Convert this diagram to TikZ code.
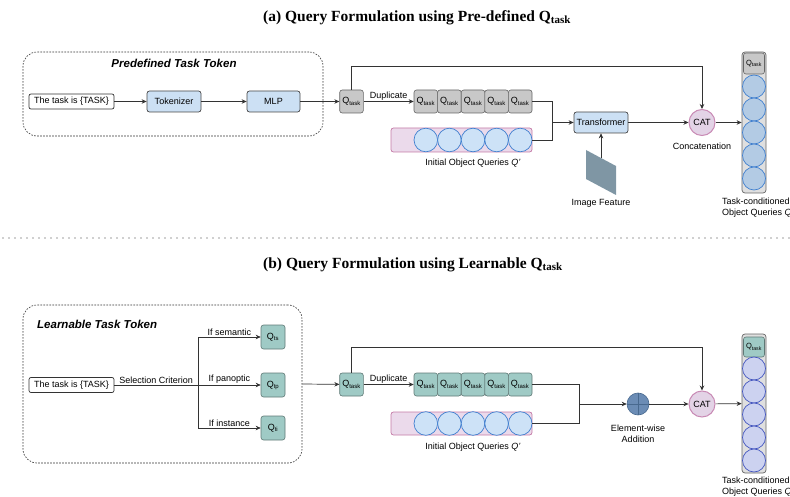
\documentclass[tikz,border=0pt]{standalone}
\usepackage{fontspec}
\setmainfont{Liberation Serif}
\setsansfont{Liberation Sans}
\usetikzlibrary{arrows.meta,positioning}

\definecolor{linegray}{HTML}{333333}
\definecolor{blockblue}{HTML}{CCE0F4}
\definecolor{tokgray}{HTML}{C8C8C8}
\definecolor{tokteal}{HTML}{9FCAC5}
\definecolor{barpink}{HTML}{EBDAEB}
\definecolor{barpinkline}{HTML}{C47AA6}
\definecolor{querybg}{HTML}{CDE2F7}
\definecolor{queryline}{HTML}{3F7FCF}
\definecolor{catfill}{HTML}{E3D3E6}
\definecolor{catline}{HTML}{C98BB5}
\definecolor{outblue}{HTML}{B3CBE4}
\definecolor{outlav}{HTML}{CCD2F0}
\definecolor{outlavline}{HTML}{4456C0}
\definecolor{featgray}{HTML}{7F96A4}
\definecolor{addblue}{HTML}{6B8CB5}
\definecolor{addline}{HTML}{48698F}

\newcommand{\qtask}{Q\textsubscript{task}}
\newcommand{\qsel}[1]{Q\textsubscript{#1}}
\newcommand{\titleq}{Q\raisebox{-0.3ex}{\fontsize{11}{11}\selectfont task}}

\begin{document}
\begin{tikzpicture}[
        x=1pt, y=-1pt,
        >={Stealth[length=5pt,width=4.5pt]},
        font=\sffamily\fontsize{9}{10.5}\selectfont,
        conn/.style={draw=linegray, line width=0.7pt},
        title/.style={font=\rmfamily\bfseries\fontsize{15.5}{17}\selectfont, anchor=west, inner sep=0pt},
        groupname/.style={font=\sffamily\bfseries\itshape\fontsize{11.5}{13}\selectfont, inner sep=0pt},
        group/.style={draw=linegray, dash pattern=on 1.6pt off 1.4pt, rounded corners=14pt, line width=0.6pt},
        prompt/.style={draw=linegray, fill=white, rounded corners=2pt, minimum width=85pt, minimum height=15pt, inner sep=0pt, line width=0.7pt},
        block/.style={draw=linegray!90, fill=blockblue, rounded corners=2.5pt, minimum height=21pt, inner sep=0pt, line width=0.7pt},
        tok/.style={rounded corners=2.5pt, minimum width=23.6pt, minimum height=23pt, inner sep=0pt, line width=0.6pt},
        graytok/.style={tok, draw=gray!80!black, fill=tokgray},
        tealtok/.style={tok, draw=tokteal!60!black, fill=tokteal},
        querybar/.style={draw=barpinkline, fill=barpink, rounded corners=2.5pt, minimum width=141pt, minimum height=24pt, inner sep=0pt, line width=0.7pt},
        query/.style={circle, draw=queryline, fill=querybg, minimum size=23.6pt, inner sep=0pt, line width=0.7pt},
        cat/.style={circle, draw=catline, fill=catfill, minimum size=26pt, inner sep=0pt, line width=1pt},
        column/.style={draw=gray!80!black, fill=gray!25, rounded corners=3pt, minimum width=24pt, inner sep=0pt, line width=0.7pt},
        small/.style={font=\sffamily\fontsize{7.5}{9}\selectfont},
        note/.style={inner sep=1pt}
    ]
    \useasboundingbox (0,0) rectangle (790,497);

    % (a) pre-defined task token
    \node[title] (titleA) at (263,18) {(a) Query Formulation using Pre-defined \titleq};
    \node[group, minimum width=300pt, minimum height=84pt] (predef) at (173,94) {};
    \node[groupname] (predefname) at (174,63) {Predefined Task Token};

    \node[prompt] (promptA) at (71.5,101.5) {The task is \{TASK\}};
    \node[block, minimum width=54pt] (tok) at (174,101.5) {Tokenizer};
    \node[block, minimum width=53pt] (mlp) at (273.5,101.5) {MLP};
    \node[graytok] (qA) at (351.5,101.5) {\qtask};
    \draw[conn, ->] (promptA) -- (tok);
    \draw[conn, ->] (tok) -- (mlp);
    \draw[conn, ->] (mlp) -- (qA);

    % duplicated tokens and initial queries
    \foreach \i in {0,...,4}
        \node[graytok] (dA\i) at (425.8+23.6*\i,101.5) {\qtask};
    \node[querybar] (initA) at (461.5,140) {};
    \foreach \i in {0,...,4}
        \node[query] (cA\i) at (425.8+23.6*\i,140) {};
    \node[note] (initAname) at (473,163) {Initial Object Queries \textit{Q'}};
    \draw[conn, ->] (qA) -- node[above, note] {Duplicate} (dA0);

    % transformer
    \coordinate (mA) at (552,122.5);
    \node[block, minimum width=54pt] (trans) at (601,122.5) {Transformer};
    \draw[conn] (dA4.east) -| (mA);
    \draw[conn] (cA4.east) -| (mA);
    \draw[conn, ->] (mA) -- (trans);
    \fill[featgray] (586,150) -- (616,166) -- (616,195) -- (586,179) -- cycle;
    \coordinate (feat) at (601,158);
    \node[note] (featname) at (601,203) {Image Feature};
    \draw[conn, ->] (feat) -- (trans);

    % concatenation
    \node[cat] (catA) at (702,122.5) {CAT};
    \node[note] (catAname) at (702,146) {Concatenation};
    \draw[conn, ->] (trans) -- (catA);
    \draw[conn, ->] (qA.north) -- ++(0,-23) -| (catA.north);

    % task-conditioned queries
    \node[column, minimum height=141pt] (colA) at (754,122.5) {};
    \node[graytok, small, minimum width=21pt, minimum height=21pt] (oqA) at (754,63.5) {\qtask};
    \foreach \i in {0,...,4}
        \node[query, fill=outblue, minimum size=23pt] (oA\i) at (754,86.5+23*\i) {};
    \draw[conn, ->] (catA) -- (colA);
    \node[note, anchor=north west, align=left] (colAname) at (721,197) {Task-conditioned\\Object Queries \textit{Q}};

    % separator
    \draw[linegray, line width=1.3pt, line cap=round, dash pattern=on 0pt off 6pt] (3,238) -- (790,238);

    % (b) learnable task token
    \node[title] (titleB) at (263,265) {(b) Query Formulation using Learnable \titleq};
    \node[group, minimum width=279pt, minimum height=158pt] (learn) at (162.5,384) {};
    \node[groupname, anchor=west] (learnname) at (37,324) {Learnable Task Token};

    \node[prompt] (promptB) at (71.5,385) {The task is \{TASK\}};
    \coordinate (split) at (198,385);
    \node[tealtok, minimum width=24pt, minimum height=24pt] (qts) at (273,337) {\qsel{ts}};
    \node[tealtok, minimum width=24pt, minimum height=24pt] (qtp) at (273,385) {\qsel{tp}};
    \node[tealtok, minimum width=24pt, minimum height=24pt] (qti) at (273,428) {\qsel{ti}};
    \draw[conn] (promptB) -- node[above, note] {Selection Criterion} (split);
    \draw[conn, ->] (split) |- node[pos=0.75, above, note] {If semantic} (qts);
    \draw[conn, ->] (split) -- node[above, note] {If panoptic} (qtp);
    \draw[conn, ->] (split) |- node[pos=0.75, above, note] {If instance} (qti);

    \node[tealtok] (qB) at (351.5,384.5) {\qtask};
    \draw[conn, ->] (learn.east) -- (qB);

    % duplicated tokens and initial queries
    \foreach \i in {0,...,4}
        \node[tealtok] (dB\i) at (425.8+23.6*\i,384.5) {\qtask};
    \node[querybar, minimum height=23pt] (initB) at (461.5,423.5) {};
    \foreach \i in {0,...,4}
        \node[query] (cB\i) at (425.8+23.6*\i,423.5) {};
    \node[note] (initBname) at (473,447) {Initial Object Queries \textit{Q'}};
    \draw[conn, ->] (qB) -- node[above, note] {Duplicate} (dB0);

    % element-wise addition
    \coordinate (mB) at (579,404);
    \node[circle, fill=addblue, draw=addline, minimum size=22pt, inner sep=0pt, line width=0.6pt] (addB) at (638,404) {};
    \draw[addline, line width=0.8pt] (addB.north) -- (addB.south);
    \draw[addline, line width=0.8pt] (addB.west) -- (addB.east);
    \node[note, align=center] (addBname) at (638,434) {Element-wise\\Addition};
    \draw[conn] (dB4.east) -| (mB);
    \draw[conn] (cB4.east) -| (mB);
    \draw[conn, ->] (mB) -- (addB);

    % concatenation
    \node[cat] (catB) at (702,404) {CAT};
    \draw[conn, ->] (addB) -- (catB);
    \draw[conn, ->] (qB.north) -- ++(0,-25) -| (catB.north);

    % task-conditioned queries
    \node[column, minimum height=139pt] (colB) at (754,403.5) {};
    \node[tealtok, small, minimum width=21pt, minimum height=20pt] (oqB) at (754,347) {\qtask};
    \foreach \i in {0,...,4}
        \node[query, fill=outlav, draw=outlavline, minimum size=23pt] (oB\i) at (754,368.5+23*\i) {};
    \draw[conn, ->] (catB) -- (colB);
    \node[note, anchor=north west, align=left] (colBname) at (721,476) {Task-conditioned\\Object Queries \textit{Q}};
\end{tikzpicture}
\end{document}
